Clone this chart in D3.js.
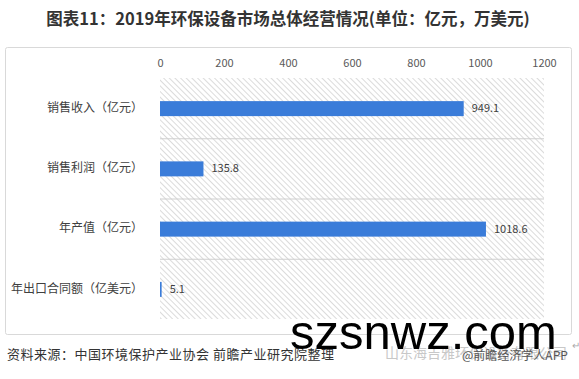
<!DOCTYPE html>
<html><head><meta charset="utf-8">
<script src="https://cdn.jsdelivr.net/npm/d3@7"></script>
<style>body{margin:0;background:#fff}svg{display:block}</style>
</head><body>
<script>
const categories = ["销售收入（亿元）","销售利润（亿元）","年产值（亿元）","年出口合同额（亿美元）"];
const values = [949.1, 135.8, 1018.6, 5.1];
const valueLabels = ["949.1","135.8","1018.6","5.1"];
const tickValues = [0,200,400,600,800,1000,1200];
const titleText = "图表11：2019年环保设备市场总体经营情况(单位：亿元，万美元)";
const sourceText = "资料来源：中国环境保护产业协会 前瞻产业研究院整理";

const W = 579, H = 379;
const font = "'Noto Sans CJK SC','Noto Sans',sans-serif";
const svg = d3.select("body").append("svg").attr("width", W).attr("height", H);

const defs = svg.append("defs");
const pat = defs.append("pattern").attr("id","hatch").attr("patternUnits","userSpaceOnUse")
  .attr("width",4).attr("height",4).attr("patternTransform","rotate(-45)");
pat.append("rect").attr("width",4).attr("height",4).attr("fill","#fff");
pat.append("line").attr("x1",0).attr("y1",0).attr("x2",0).attr("y2",4)
  .attr("stroke","#c8c8c8").attr("stroke-width",1.3);

// title
svg.append("text").attr("x", 288).attr("y", 25).attr("text-anchor","middle")
  .attr("font-family", font).attr("font-size", 16.5).attr("font-weight","bold")
  .attr("fill","#333").text(titleText);

// chart box
svg.append("rect").attr("x",5.5).attr("y",47.5).attr("width",566).attr("height",287)
  .attr("fill","#fff").attr("stroke","#d9d9d9").attr("rx",2);

const x = d3.scaleLinear().domain([0,1200]).range([160,544]);
const y = d3.scaleBand().domain(categories).range([78,319]).paddingInner(0).paddingOuter(0);

svg.append("rect").attr("x",x(0)).attr("y",78).attr("width",x(1200)-x(0)).attr("height",241)
  .attr("fill","url(#hatch)");

// horizontal separators
const seps = categories.slice(1).map(c => y(c));
svg.selectAll(".sep").data(seps).enter().append("line")
  .attr("x1", x(0)).attr("x2", x(1200)).attr("y1", d=>d+0.5).attr("y2", d=>d+0.5)
  .attr("stroke","#cfcfcf");

// top axis
const axis = d3.axisTop(x).tickValues(tickValues).tickFormat(d3.format("d")).tickSize(0).tickPadding(0);
const ag = svg.append("g").attr("transform","translate(0,67)").call(axis);
ag.select(".domain").remove();
ag.selectAll("text").attr("font-family", font).attr("font-size", 11).attr("fill","#595959");

// category labels
const la = d3.axisLeft(y).tickSize(0).tickPadding(0);
const lg = svg.append("g").attr("transform","translate(143,0)").call(la);
lg.select(".domain").remove();
lg.selectAll("text").attr("font-family", font).attr("font-size", 12).attr("fill","#404040");

// bars
const bh = 15;
svg.selectAll(".bar").data(values).enter().append("rect")
  .attr("x", x(0)).attr("y", (d,i)=> y(categories[i]) + y.bandwidth()/2 - bh/2 + 0.5)
  .attr("width", d => x(d)-x(0)).attr("height", bh).attr("fill","#3a7cd9");

svg.selectAll(".vl").data(values).enter().append("text")
  .attr("x", d => x(d)+8).attr("y", (d,i)=> y(categories[i]) + y.bandwidth()/2 + 1)
  .attr("dominant-baseline","middle")
  .attr("font-family", font).attr("font-size", 11).attr("fill","#404040")
  .text((d,i)=>valueLabels[i]);

// footer
svg.append("text").attr("x",7).attr("y",359).attr("font-family", font).attr("font-size",13)
  .attr("fill","#333").attr("letter-spacing",0.5).text(sourceText);

svg.append("text").attr("x",385).attr("y",358).attr("font-family", font).attr("font-size",14)
  .attr("fill","#c8c8c8").text("山东海吉雅环保设备有限公司");
svg.append("text").attr("x",462).attr("y",360).attr("font-family", font).attr("font-size",12)
  .attr("fill","#555").text("@前瞻经济学人APP");
svg.append("text").attr("x",290).attr("y",349).attr("font-family","'Liberation Sans',Arial,sans-serif")
  .attr("font-size",49).attr("fill","#000").text("szsnwz.com");
svg.append("text").attr("x",572).attr("y",349).attr("font-family", font).attr("font-size",10)
  .attr("fill","#aaa").text("↵");
</script>
</body></html>
